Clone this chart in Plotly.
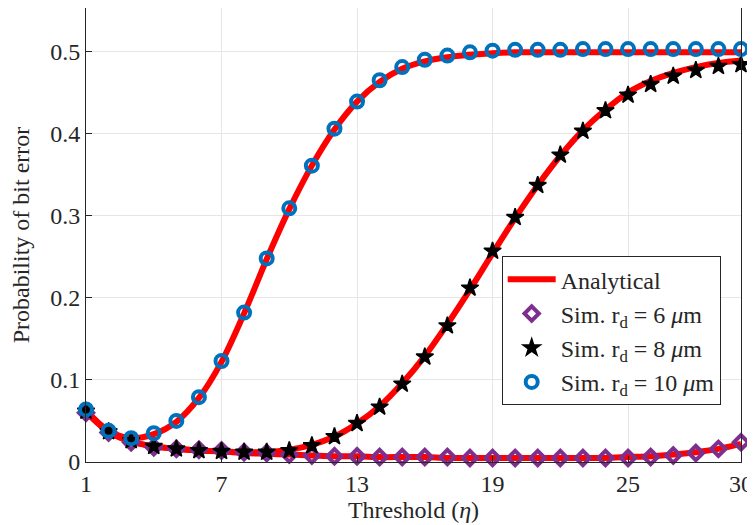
import plotly.graph_objects as go

threshold = list(range(1, 31))

sim_6um = [0.060, 0.036, 0.024, 0.018, 0.016, 0.015, 0.014, 0.012, 0.011, 0.009,
           0.008, 0.007, 0.007, 0.006, 0.006, 0.006, 0.006, 0.005, 0.005, 0.005,
           0.005, 0.005, 0.005, 0.005, 0.005, 0.006, 0.008, 0.011, 0.016, 0.024]
sim_8um = [0.062, 0.037, 0.026, 0.019, 0.016, 0.014, 0.013, 0.012, 0.012, 0.014,
           0.020, 0.031, 0.047, 0.067, 0.095, 0.128, 0.166, 0.212, 0.257, 0.298,
           0.337, 0.374, 0.403, 0.428, 0.447, 0.460, 0.470, 0.477, 0.482, 0.484]
sim_10um = [0.064, 0.038, 0.029, 0.035, 0.050, 0.079, 0.123, 0.182, 0.248, 0.309,
            0.361, 0.406, 0.439, 0.465, 0.481, 0.490, 0.495, 0.499, 0.501, 0.502,
            0.502, 0.502, 0.503, 0.503, 0.503, 0.503, 0.503, 0.503, 0.503, 0.503]

ana_6um = [0.061, 0.037, 0.025, 0.019, 0.016, 0.014, 0.013, 0.011, 0.010, 0.009,
           0.008, 0.007, 0.007, 0.006, 0.006, 0.006, 0.005, 0.005, 0.005, 0.005,
           0.005, 0.005, 0.005, 0.005, 0.006, 0.007, 0.009, 0.012, 0.016, 0.022]
ana_8um = [0.062, 0.037, 0.025, 0.019, 0.016, 0.014, 0.013, 0.012, 0.012, 0.015,
           0.021, 0.031, 0.047, 0.068, 0.096, 0.129, 0.168, 0.210, 0.254, 0.297,
           0.337, 0.373, 0.404, 0.429, 0.450, 0.464, 0.474, 0.481, 0.486, 0.489]
ana_10um = [0.063, 0.038, 0.029, 0.034, 0.049, 0.078, 0.122, 0.181, 0.247, 0.308,
            0.361, 0.405, 0.439, 0.463, 0.479, 0.488, 0.493, 0.496, 0.498, 0.499,
            0.499, 0.499, 0.499, 0.499, 0.499, 0.499, 0.499, 0.499, 0.499, 0.499]

x_ticks = [1, 7, 13, 19, 25, 30]
y_ticks = [0, 0.1, 0.2, 0.3, 0.4, 0.5]

RED = "#FF0000"
PURPLE = "#7E2F8E"
BLUE = "#0072BD"
FONT = "Liberation Serif"
TXT = "#262626"

fig = go.Figure()
for i, ana in enumerate([ana_6um, ana_8um, ana_10um]):
    fig.add_trace(go.Scatter(
        x=threshold, y=ana, mode="lines", line=dict(color=RED, width=6, shape="spline"),
        name="Analytical", showlegend=(i == 0), legendrank=1, cliponaxis=False))

fig.add_trace(go.Scatter(
    x=threshold, y=sim_6um, mode="markers", name="Sim. r<sub>d</sub> = 6 <i>μ</i>m",
    marker=dict(symbol="diamond-open", size=11, color=PURPLE, line=dict(width=4, color=PURPLE)),
    legendrank=2, cliponaxis=False))
fig.add_trace(go.Scatter(
    x=threshold, y=sim_8um, mode="markers", name="Sim. r<sub>d</sub> = 8 <i>μ</i>m",
    marker=dict(symbol="star", size=13, color="black", line=dict(width=1.5, color="black")),
    legendrank=3, cliponaxis=False))
fig.add_trace(go.Scatter(
    x=threshold, y=sim_10um, mode="markers", name="Sim. r<sub>d</sub> = 10 <i>μ</i>m",
    marker=dict(symbol="circle-open", size=12, color=BLUE, line=dict(width=4, color=BLUE)),
    legendrank=4, cliponaxis=False))

axis_common = dict(
    showline=True, linecolor=TXT, linewidth=1, mirror=True,
    showgrid=True, gridcolor="#E6E6E6", gridwidth=1,
    ticks="inside", ticklen=6, tickcolor=TXT,
    tickfont=dict(family=FONT, size=24, color=TXT),
    zeroline=False, automargin=False,
)

fig.update_layout(
    width=747, height=517,
    margin=dict(l=78, r=14, t=0, b=63),
    paper_bgcolor="white", plot_bgcolor="white",
    font=dict(family=FONT, color=TXT),
    xaxis=dict(range=[1, 30], tickvals=x_ticks, ticktext=[str(t) for t in x_ticks],
               title=dict(text="Threshold (<i>η</i>)", font=dict(family=FONT, size=24, color=TXT), standoff=0),
               **axis_common),
    yaxis=dict(range=[0, 0.553], tickvals=y_ticks, ticktext=["0", "0.1", "0.2", "0.3", "0.4", "0.5"],
               title=dict(text="Probability of bit error", font=dict(family=FONT, size=24, color=TXT), standoff=20),
               **axis_common),
    legend=dict(x=0.969, y=0.125, xanchor="right", yanchor="bottom",
                bgcolor="white", bordercolor=TXT, borderwidth=1,
                font=dict(family=FONT, size=24, color=TXT),
                tracegroupgap=0, itemwidth=48),
)

fig.write_html("out.html")
